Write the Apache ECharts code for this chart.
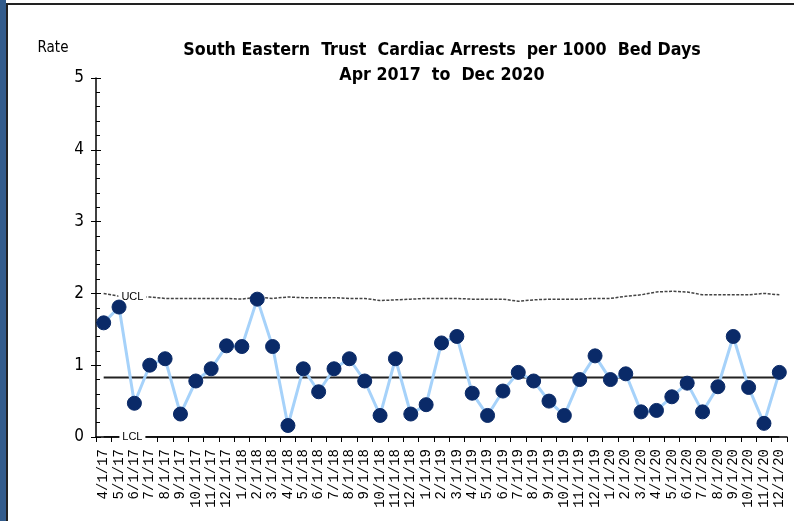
<!DOCTYPE html>
<html>
<head>
<meta charset="utf-8">
<script src="https://cdn.jsdelivr.net/npm/echarts@6/dist/echarts.min.js"></script>
<style>
  html, body { margin: 0; padding: 0; background: #fff; }
  #chart { width: 794px; height: 521px; }
</style>
</head>
<body>
<div id="chart"></div>
<script>
// months Apr 2017 .. Dec 2020
var months = ['4/1/17','5/1/17','6/1/17','7/1/17','8/1/17','9/1/17','10/1/17','11/1/17','12/1/17',
  '1/1/18','2/1/18','3/1/18','4/1/18','5/1/18','6/1/18','7/1/18','8/1/18','9/1/18','10/1/18','11/1/18','12/1/18',
  '1/1/19','2/1/19','3/1/19','4/1/19','5/1/19','6/1/19','7/1/19','8/1/19','9/1/19','10/1/19','11/1/19','12/1/19',
  '1/1/20','2/1/20','3/1/20','4/1/20','5/1/20','6/1/20','7/1/20','8/1/20','9/1/20','10/1/20','11/1/20','12/1/20'];

var rate = [1.59,1.81,0.47,1.00,1.09,0.32,0.78,0.95,1.27,
  1.26,1.92,1.26,0.16,0.95,0.63,0.95,1.09,0.78,0.30,1.09,0.32,
  0.45,1.31,1.40,0.61,0.30,0.64,0.90,0.78,0.50,0.30,0.80,1.13,
  0.80,0.88,0.35,0.37,0.56,0.75,0.35,0.70,1.40,0.69,0.19,0.90];

var ucl = [2.00,1.96,1.95,1.95,1.93,1.93,1.93,1.93,1.93,
  1.92,1.95,1.93,1.95,1.94,1.94,1.94,1.93,1.93,1.90,1.91,1.92,
  1.93,1.93,1.93,1.92,1.92,1.92,1.89,1.91,1.92,1.92,1.92,1.93,
  1.93,1.96,1.98,2.02,2.03,2.02,1.98,1.98,1.98,1.98,2.00,1.98];

var meanVal = 0.83;
var lclVal = 0;

var yTicks = [0, 1, 2, 3, 4, 5];

var meanLine = months.map(function () { return meanVal; });
var lclLine = months.map(function () { return lclVal; });

var chart = echarts.init(document.getElementById('chart'));

var font = 'Liberation Sans';
var narrow = "'Liberation Sans Narrow', 'DejaVu Sans Condensed', 'Liberation Sans', sans-serif";

var option = {
  animation: false,
  backgroundColor: '#fff',
  title: {
    text: 'South Eastern  Trust  Cardiac Arrests  per 1000  Bed Days\nApr 2017  to  Dec 2020',
    left: 437,
    top: 33,
    textAlign: 'center',
    textStyle: {
      fontFamily: narrow,
      fontWeight: 'bold',
      fontSize: 17.7,
      lineHeight: 25,
      color: '#000'
    }
  },
  graphic: [
    { type: 'rect', shape: { x: 0, y: 0, width: 6, height: 521 }, style: { fill: '#335c8c' } },
    { type: 'rect', shape: { x: 6, y: 3, width: 2, height: 518 }, style: { fill: '#222' } },
    { type: 'rect', shape: { x: 6, y: 3, width: 788, height: 2 }, style: { fill: '#222' } }
  ],
  grid: { left: 96, right: 7, top: 78, bottom: 84 },
  xAxis: {
    type: 'category',
    data: months,
    boundaryGap: true,
    axisLine: { lineStyle: { color: '#000', width: 1.5 } },
    axisTick: { show: true, inside: false, length: 5, lineStyle: { color: '#000' } },
    axisLabel: {
      rotate: 90,
      interval: 0,
      margin: 12,
      fontFamily: "'Liberation Mono', monospace",
      fontSize: 14,
      color: '#000'
    }
  },
  yAxis: [{
    type: 'value',
    min: 0,
    max: 5,
    interval: 1,
    name: 'Rate',
    nameLocation: 'end',
    nameGap: 22,
    nameTextStyle: { fontFamily: narrow, fontSize: 15, color: '#000', align: 'center', padding: [0, 86, 0, 0] },
    axisLine: { show: true, lineStyle: { color: '#000', width: 1.5 } },
    axisTick: { show: true, inside: false, length: 5, lineStyle: { color: '#000' } },
    axisLabel: {
      margin: 12,
      fontFamily: narrow,
      fontSize: 17,
      color: '#000',
      formatter: function (v) { return yTicks.indexOf(v) >= 0 ? String(v) : ''; }
    },
    splitLine: { show: false }
  }, {
    type: 'value',
    min: 0,
    max: 5,
    interval: 1,
    position: 'left',
    axisLine: { show: false },
    axisTick: { show: true, inside: true, length: 5, lineStyle: { color: '#000' } },
    minorTick: { show: true, splitNumber: 5, length: 4, lineStyle: { color: '#000' } },
    axisLabel: { show: false },
    splitLine: { show: false }
  }],
  series: [
    {
      name: 'LCL',
      type: 'line',
      data: lclLine,
      symbol: 'none',
      silent: true,
      lineStyle: { color: '#000', width: 1.5 },
      markPoint: {
        symbol: 'rect',
        symbolSize: [26, 10],
        itemStyle: { color: '#fff' },
        label: { show: true, position: 'inside', formatter: 'LCL', fontFamily: font, fontSize: 11, color: '#000' },
        data: [{ coord: ['6/1/17', 0], symbolOffset: [-2, 0] }]
      }
    },
    {
      name: 'UCL',
      type: 'line',
      data: ucl,
      symbol: 'none',
      silent: true,
      lineStyle: { color: '#444', width: 1.5, type: [3, 1.5] },
      markPoint: {
        symbol: 'rect',
        symbolSize: [28, 12],
        itemStyle: { color: '#fff' },
        label: { show: true, position: 'inside', formatter: 'UCL', fontFamily: font, fontSize: 11, color: '#000' },
        data: [{ coord: ['6/1/17', 1.95], symbolOffset: [-2, 0] }]
      }
    },
    {
      name: 'Mean',
      type: 'line',
      data: meanLine,
      symbol: 'none',
      silent: true,
      lineStyle: { color: '#222', width: 2 }
    },
    {
      name: 'Rate',
      type: 'line',
      data: rate,
      symbol: 'circle',
      symbolSize: 14,
      z: 5,
      lineStyle: { color: '#a6d2fa', width: 3 },
      itemStyle: { color: '#0a2a68', borderColor: '#0a2a68' }
    }
  ]
};

chart.setOption(option);
</script>
</body>
</html>
